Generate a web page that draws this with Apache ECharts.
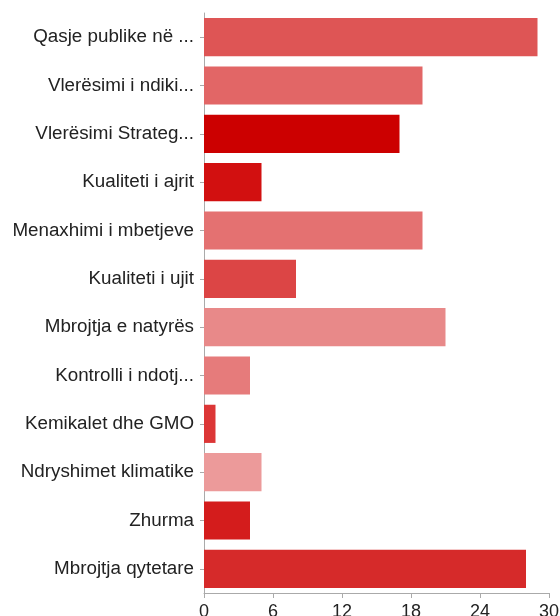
<!DOCTYPE html>
<html><head><meta charset="utf-8">
<script src="https://cdn.jsdelivr.net/npm/echarts@6/dist/echarts.min.js"></script>
<style>html,body{margin:0;padding:0;background:#fff}#c{width:560px;height:616px}</style>
</head><body><div id="c"></div>
<script>
var categories = ["Qasje publike në ...","Vlerësimi i ndiki...","Vlerësimi Strateg...","Kualiteti i ajrit","Menaxhimi i mbetjeve","Kualiteti i ujit","Mbrojtja e natyrës","Kontrolli i ndotj...","Kemikalet dhe GMO","Ndryshimet klimatike","Zhurma","Mbrojtja qytetare"];
var values = [29,19,17,5,19,8,21,4,1,5,4,28];
var barColors = ["#de5555","#e26666","#cc0000","#d21010","#e47171","#dc4545","#e88989","#e67b7b","#dc3636","#ec9a9a","#d41c1c","#d62a2a"];
var xTicks = [0,6,12,18,24,30];

var chart = echarts.init(document.getElementById('c'), null, {renderer:'canvas'});
chart.setOption({
  animation:false,
  grid:{left:204,right:11,top:13,bottom:23,containLabel:false,outerBoundsMode:'none'},
  xAxis:{type:'value',min:xTicks[0],max:xTicks[xTicks.length-1],interval:6,
    splitLine:{show:false},
    axisLine:{show:true,lineStyle:{color:'#aaa',width:1}},
    axisTick:{show:true,length:5,lineStyle:{color:'#aaa'}},
    axisLabel:{color:'#222',fontSize:18,fontFamily:'Liberation Sans, Arial, sans-serif',margin:10,showMaxLabel:true}
  },
  yAxis:{type:'category',inverse:true,data:categories,
    axisLine:{show:true,lineStyle:{color:'#aaa',width:1}},
    axisTick:{show:true,length:4,alignWithLabel:true,lineStyle:{color:'#aaa'}},
    axisLabel:{color:'#222',fontSize:18.8,fontFamily:'Liberation Sans, Arial, sans-serif',margin:10}
  },
  series:[{type:'bar',data:values.map(function(v,i){return {value:v,itemStyle:{color:barColors[i]}};}),
    barCategoryGap:'21%'}]
});
</script></body></html>
